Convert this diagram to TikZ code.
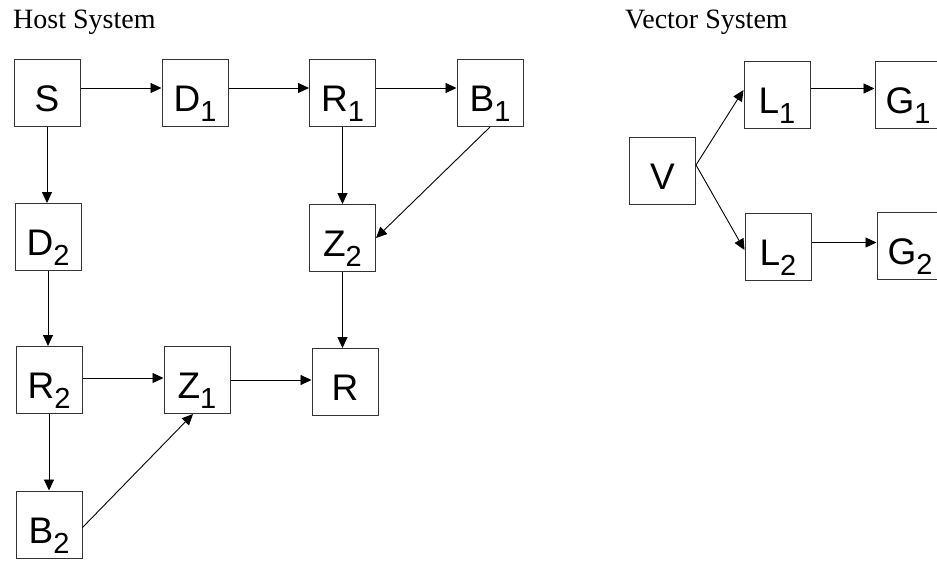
\documentclass[tikz,border=0pt]{standalone}
\usepackage{fontspec}
\setmainfont{Liberation Serif}
\newfontfamily\boxfont{Liberation Sans}
\usetikzlibrary{arrows.meta}
\newcommand\sbs[1]{\raisebox{-10pt}[0pt][0pt]{\fontsize{29}{29}\selectfont #1}}
\begin{document}
\begin{tikzpicture}[x=1pt,y=-1pt,
  blk/.style={draw=black!80, line width=1pt, minimum width=66pt, minimum height=67pt, inner sep=0pt, text height=37pt, text depth=0pt, font=\boxfont\fontsize{37}{37}\selectfont},
  arr/.style={draw=black, line width=0.9pt, -{Triangle[length=11pt,width=10pt]}},
  ttl/.style={font=\fontsize{28}{28}\selectfont, anchor=base west, inner sep=0pt}]
\useasboundingbox (0,0) rectangle (937,560);
\clip (0,0) rectangle (937,560);
% titles
\node[ttl] (th) at (13,28) {Host System};
\node[ttl] (tv) at (625,28) {Vector System};
% host system
\node[blk] (S)  at (47,93)    {S};
\node[blk] (D1) at (195,93)   {D\sbs{1}};
\node[blk] (R1) at (342.5,93) {R\sbs{1}};
\node[blk] (B1) at (490,93)   {B\sbs{1}};
\node[blk] (D2) at (48,237)   {D\sbs{2}};
\node[blk] (Z2) at (342.5,238) {Z\sbs{2}};
\node[blk] (R2) at (49,380)   {R\sbs{2}};
\node[blk] (Z1) at (197,380)  {Z\sbs{1}};
\node[blk] (R)  at (345,382)  {R};
\node[blk] (B2) at (49,524.5) {B\sbs{2}};
% vector system
\node[blk] (V)  at (662.5,171) {V};
\node[blk] (L1) at (777,94.5)  {L\sbs{1}};
\node[blk] (G1) at (908,94.5)  {G\sbs{1}};
\node[blk] (L2) at (778,246.5) {L\sbs{2}};
\node[blk] (G2) at (910,246)   {G\sbs{2}};
% connectors
\draw[arr] ([yshift=5pt]S.east) -- ([yshift=5pt]D1.west);
\draw[arr] ([yshift=5pt]D1.east) -- ([yshift=5pt]R1.west);
\draw[arr] ([yshift=5pt]R1.east) -- ([yshift=5pt]B1.west);
\draw[arr] (S.south) -- (S.south |- D2.north);
\draw[arr] (D2.south) -- (D2.south |- R2.north);
\draw[arr] (R1.south) -- (R1.south |- Z2.north);
\draw[arr] (B1.south) -- (Z2.east);
\draw[arr] (Z2.south) -- (Z2.south |- R.north);
\draw[arr] ([yshift=2pt]R2.east) -- ([yshift=2pt]R2.east -| Z1.west);
\draw[arr] (Z1.east) -- (Z1.east -| R.west);
\draw[arr] (R2.south) -- (R2.south |- B2.north);
\draw[arr] ([yshift=-3pt]B2.east) -- ([xshift=-4pt]Z1.south);
\draw[arr] ([yshift=6pt]V.east) -- ([yshift=4.5pt]L1.west);
\draw[arr] ([yshift=6pt]V.east) -- ([yshift=-3.5pt]L2.west);
\draw[arr] ([yshift=6pt]L1.east) -- ([yshift=6pt]L1.east -| G1.west);
\draw[arr] ([yshift=4pt]L2.east) -- ([yshift=4pt]L2.east -| G2.west);
\end{tikzpicture}
\end{document}
